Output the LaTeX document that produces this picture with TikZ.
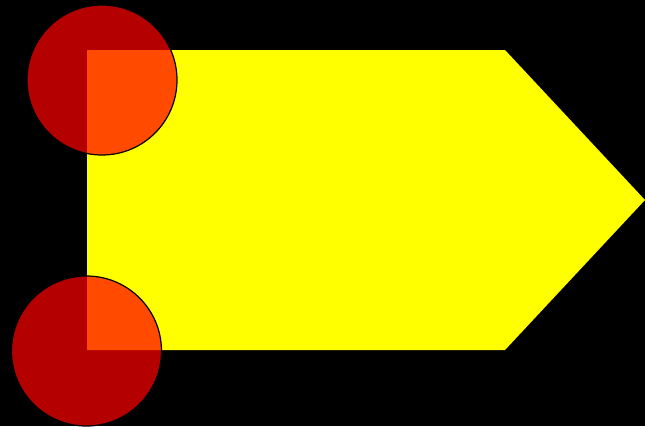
\documentclass[tikz,border=0pt]{standalone}
\definecolor{signalyellow}{RGB}{255,255,0}
\definecolor{dotred}{RGB}{255,0,0}
\tikzset{
  corner dot/.style={draw=black, line width=1.2pt, fill=dotred, fill opacity=0.71},
}
\begin{document}
\begin{tikzpicture}[x=1pt,y=-1pt]
  % Background
  \fill[black] (0,0) rectangle (645,426);
  \useasboundingbox (0,0) rectangle (645,426);
  % Arrow-shaped signal
  \fill[signalyellow] (87,50) -- (505,50) -- (645,200) -- (505,350) -- (87,350) -- cycle;
  % Markers at the left corners
  \begin{scope}
    \clip (0,0) rectangle (645,426);
    \path[corner dot] (102,80) circle (75);
    \path[corner dot] (86.5,351) circle (75);
  \end{scope}
\end{tikzpicture}
\end{document}
